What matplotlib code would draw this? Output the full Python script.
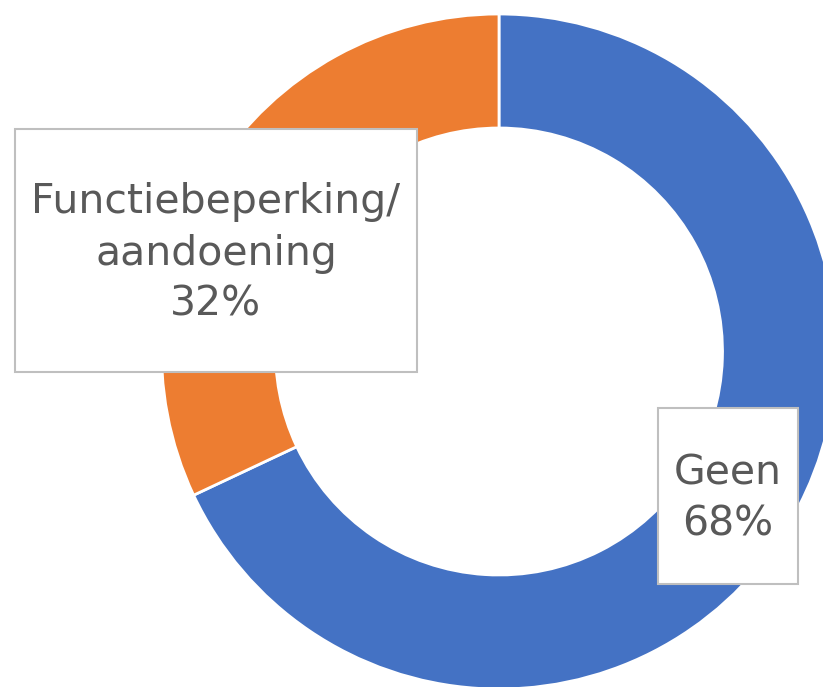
import matplotlib.pyplot as plt
from matplotlib.patches import Rectangle

labels = ["Geen", "Functiebeperking/\naandoening"]
values = [68, 32]
colors = ["#4472C4", "#ED7D31"]

W, H = 823, 687


def main():
    fig = plt.figure(figsize=(W / 100, H / 100), dpi=100)
    ax = fig.add_axes([0, 0, 1, 1])

    # donut is larger than the canvas, so it gets cut at right and bottom
    ax.pie(values, colors=colors, startangle=90, counterclock=False,
           center=(499, H - 351.5), radius=337.5,
           wedgeprops=dict(width=114, edgecolor="white", linewidth=2))
    ax.set_xlim(0, W)
    ax.set_ylim(0, H)
    ax.set_aspect("equal")
    ax.axis("off")

    # label boxes (x0, y0 from top, x1, y1)
    boxes = [(658, 408, 798, 584), (15, 129, 417, 372)]
    for lab, val, (x0, y0, x1, y1) in zip(labels, values, boxes):
        ax.add_patch(Rectangle((x0, H - y1), x1 - x0, y1 - y0,
                               facecolor="white", edgecolor="#BFBFBF",
                               linewidth=1.5, zorder=3))
        ax.text((x0 + x1) / 2, H - (y0 + y1) / 2 - 3, f"{lab}\n{val}%",
                ha="center", va="center", multialignment="center",
                fontsize=29.5, color="#595959", linespacing=1.37,
                family="DejaVu Sans", zorder=4)

    fig.savefig("out.png", dpi=100)
    plt.close(fig)


if __name__ == "__main__":
    main()
